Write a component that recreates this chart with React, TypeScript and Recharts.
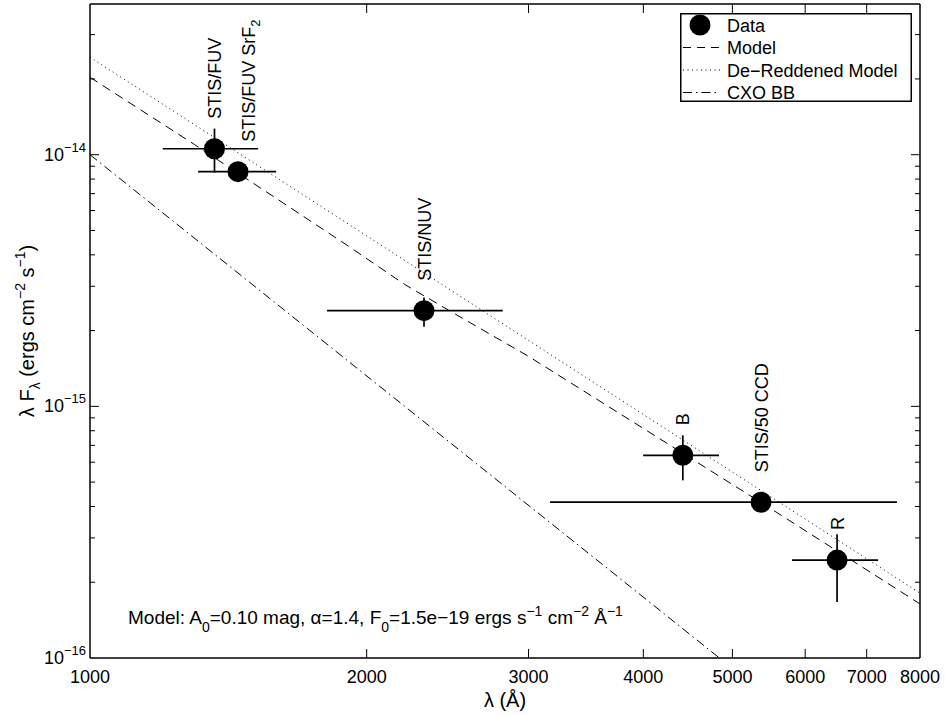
import {
  ComposedChart,
  Line,
  Scatter,
  ErrorBar,
  XAxis,
  YAxis,
  Legend,
  Customized,
} from "recharts";

const FONT = '"Liberation Sans", Arial, Helvetica, sans-serif';

// measured photometry
const pointNames = ["STIS/FUV", "STIS/FUV SrF2", "STIS/NUV", "B", "STIS/50 CCD", "R"];
const pointLam = [1366, 1449, 2309, 4416, 5372, 6499];
const pointFlux = [1.056e-14, 8.56e-15, 2.4e-15, 6.39e-16, 4.16e-16, 2.45e-16];
const lamLo = [1200, 1311, 1811, 3998, 3166, 5806];
const lamHi = [1524, 1594, 2812, 4835, 7551, 7202];
const fluxLo = [8.49e-15, 8.56e-15, 2.07e-15, 5.08e-16, 4.16e-16, 1.67e-16];
const fluxHi = [1.27e-14, 8.56e-15, 2.71e-15, 7.67e-16, 4.16e-16, 3.1e-16];

// model curves
const modelLam = [1000, 1300, 1600, 1900, 2200, 2500, 3000, 4000, 5500, 8000];
const modelFlux = [2.03e-14, 1.096e-14, 6.65e-15, 4.39e-15, 3.05e-15, 2.32e-15, 1.58e-15, 8.17e-16, 3.93e-16, 1.64e-16];
const deredLam = [1000, 8000];
const deredFlux = [2.44e-14, 1.81e-16];
const bbLam = [1000, 4840];
const bbFlux = [1.0e-14, 1.0e-16];

const xTicks = [1000, 2000, 3000, 4000, 5000, 6000, 7000, 8000];
const yTicks = [
  1e-16, 2e-16, 3e-16, 4e-16, 5e-16, 6e-16, 7e-16, 8e-16, 9e-16,
  1e-15, 2e-15, 3e-15, 4e-15, 5e-15, 6e-15, 7e-15, 8e-15, 9e-15,
  1e-14, 2e-14, 3e-14,
];
const legendNames = ["Data", "Model", "De\u2212Reddened Model", "CXO BB"];

const X_DOMAIN = [1000, 8000];
const Y_DOMAIN = [1e-16, 3.97e-14];

const points = pointNames.map((name, i) => ({
  name,
  lam: pointLam[i],
  f: pointFlux[i],
  xErr: [pointLam[i] - lamLo[i], lamHi[i] - pointLam[i]],
  yErr: [pointFlux[i] - fluxLo[i], fluxHi[i] - pointFlux[i]],
}));

const toSeries = (lams: number[], fluxes: number[]) =>
  lams.map((lam, i) => ({ lam, f: fluxes[i] }));

const isDecade = (v: number) => {
  const l = Math.log10(v);
  return Math.abs(l - Math.round(l)) < 1e-6;
};

const BottomTick = (props: any) => {
  const { x, y, payload } = props;
  const v = payload.value;
  return (
    <g>
      {v > 1000 && v < 8000 && (
        <line x1={x} y1={y} x2={x} y2={y - 9} stroke="#000" strokeWidth={1} />
      )}
      <text x={x} y={y + 25} textAnchor="middle" fontSize={18} fontFamily={FONT} fill="#000">
        {v}
      </text>
    </g>
  );
};

const TopTick = (props: any) => {
  const { x, y, payload } = props;
  const v = payload.value;
  if (v <= 1000 || v >= 8000) return <g />;
  return <line x1={x} y1={y} x2={x} y2={y + 9} stroke="#000" strokeWidth={1} />;
};

const LeftTick = (props: any) => {
  const { x, y, payload } = props;
  const v = payload.value;
  const major = isDecade(v);
  const len = major ? 9 : 5;
  return (
    <g>
      {v > Y_DOMAIN[0] && (
        <line x1={x} y1={y} x2={x + len} y2={y} stroke="#000" strokeWidth={1} />
      )}
      {major && (
        <text x={x - 4} y={y + 6} textAnchor="end" fontSize={18} fontFamily={FONT} fill="#000">
          10
          <tspan dy={-9} fontSize={13}>
            {"\u2212" + Math.abs(Math.round(Math.log10(v)))}
          </tspan>
        </text>
      )}
    </g>
  );
};

const RightTick = (props: any) => {
  const { x, y, payload } = props;
  const v = payload.value;
  if (v <= Y_DOMAIN[0]) return <g />;
  const len = isDecade(v) ? 9 : 5;
  return <line x1={x} y1={y} x2={x - len} y2={y} stroke="#000" strokeWidth={1} />;
};

const labelShift: Record<string, number> = { "STIS/FUV SrF2": 10 };

const DataPoint = (props: any) => {
  const { cx, cy, payload } = props;
  const name: string = payload.name;
  const lx = cx + (labelShift[name] ?? 0);
  const ly = cy - 30;
  const sub = name.endsWith("SrF2");
  return (
    <g>
      <circle cx={cx} cy={cy} r={10.5} fill="#000" />
      <text
        x={lx}
        y={ly}
        dy={6.5}
        transform={`rotate(-90 ${lx} ${ly})`}
        fontSize={18}
        fontFamily={FONT}
        fill="#000"
      >
        {sub ? name.slice(0, -1) : name}
        {sub && (
          <tspan dy={5} fontSize={13}>
            2
          </tspan>
        )}
      </text>
    </g>
  );
};

const YTitle = (props: any) => {
  const { viewBox } = props;
  const cx = viewBox.x + 27;
  const cy = viewBox.y + viewBox.height / 2;
  return (
    <text
      x={cx}
      y={cy}
      dy={7}
      textAnchor="middle"
      transform={`rotate(-90 ${cx} ${cy})`}
      fontSize={20}
      fontFamily={FONT}
      fill="#000"
    >
      λ F
      <tspan dy={6} fontSize={14}>λ</tspan>
      <tspan dy={-6}> (ergs cm</tspan>
      <tspan dy={-9} fontSize={14}>{"\u22122"}</tspan>
      <tspan dy={9}> s</tspan>
      <tspan dy={-9} fontSize={14}>{"\u22121"}</tspan>
      <tspan dy={9}>)</tspan>
    </text>
  );
};

const XTitle = (props: any) => {
  const { viewBox } = props;
  return (
    <text
      x={viewBox.x + viewBox.width / 2}
      y={viewBox.y + 49}
      textAnchor="middle"
      fontSize={20}
      fontFamily={FONT}
      fill="#000"
    >
      λ (Å)
    </text>
  );
};

const Annotation = () => (
  <text x={128} y={624} fontSize={19} fontFamily={FONT} fill="#000">
    Model: A<tspan dy={8} fontSize={14}>0</tspan>
    <tspan dy={-8}>=0.10 mag, α=1.4, F</tspan>
    <tspan dy={8} fontSize={14}>0</tspan>
    <tspan dy={-8}>=1.5e−19 ergs s</tspan>
    <tspan dy={-8} fontSize={14}>−1</tspan>
    <tspan dy={8}> cm</tspan>
    <tspan dy={-8} fontSize={14}>−2</tspan>
    <tspan dy={8}> Å</tspan>
    <tspan dy={-8} fontSize={14}>−1</tspan>
  </text>
);

const legendDash = ["", "8 6", "1 3.5", "9 4 1.5 4"];

const LegendBox = () => (
  <svg width={232} height={89} style={{ display: "block" }}>
    <rect x={0.75} y={0.75} width={230.5} height={87.5} fill="#fff" stroke="#000" strokeWidth={1.5} />
    {legendNames.map((name, i) => {
      const ry = 12 + i * 22.5;
      return (
        <g key={name}>
          {i === 0 ? (
            <circle cx={20} cy={ry} r={10.5} fill="#000" />
          ) : (
            <line x1={3} x2={40} y1={ry} y2={ry} stroke="#000" strokeWidth={1} strokeDasharray={legendDash[i]} />
          )}
          <text x={47} y={ry + 6.5} fontSize={18} fontFamily={FONT} fill="#000">
            {name}
          </text>
        </g>
      );
    })}
  </svg>
);

export default function App() {
  return (
    <div style={{ position: "absolute", left: 0, top: 0, background: "#fff" }}>
      <ComposedChart width={945} height={715} margin={{ top: 3, right: 24, bottom: 0, left: 0 }}>
        <XAxis
          dataKey="lam"
          type="number"
          scale="log"
          domain={X_DOMAIN}
          allowDataOverflow
          ticks={xTicks}
          interval={0}
          tickSize={0}
          tickMargin={0}
          height={57}
          tick={<BottomTick />}
          tickLine={false}
          axisLine={{ stroke: "#000", strokeWidth: 1.5 }}
          label={{ content: XTitle }}
        />
        <XAxis
          xAxisId="top"
          orientation="top"
          dataKey="lam"
          type="number"
          scale="log"
          domain={X_DOMAIN}
          allowDataOverflow
          ticks={xTicks}
          interval={0}
          tickSize={0}
          tickMargin={0}
          height={1}
          tick={<TopTick />}
          tickLine={false}
          axisLine={{ stroke: "#000", strokeWidth: 1.5 }}
        />
        <YAxis
          dataKey="f"
          type="number"
          scale="log"
          domain={Y_DOMAIN}
          allowDataOverflow
          ticks={yTicks}
          interval={0}
          tickSize={0}
          tickMargin={0}
          width={90}
          tick={<LeftTick />}
          tickLine={false}
          axisLine={{ stroke: "#000", strokeWidth: 1.5 }}
          label={{ content: YTitle }}
        />
        <YAxis
          yAxisId="right"
          orientation="right"
          dataKey="f"
          type="number"
          scale="log"
          domain={Y_DOMAIN}
          allowDataOverflow
          ticks={yTicks}
          interval={0}
          tickSize={0}
          tickMargin={0}
          width={1}
          tick={<RightTick />}
          tickLine={false}
          axisLine={{ stroke: "#000", strokeWidth: 1.5 }}
        />
        <Line
          data={toSeries(modelLam, modelFlux)}
          dataKey="f"
          name="Model"
          stroke="#000"
          strokeWidth={1}
          strokeDasharray="9 6"
          dot={false}
          activeDot={false}
          isAnimationActive={false}
        />
        <Line
          data={toSeries(deredLam, deredFlux)}
          dataKey="f"
          name="De-Reddened Model"
          stroke="#000"
          strokeWidth={1}
          strokeDasharray="1 3.5"
          dot={false}
          activeDot={false}
          isAnimationActive={false}
        />
        <Line
          data={toSeries(bbLam, bbFlux)}
          dataKey="f"
          name="CXO BB"
          stroke="#000"
          strokeWidth={1}
          strokeDasharray="9 4 1.5 4"
          dot={false}
          activeDot={false}
          isAnimationActive={false}
        />
        <Scatter data={points} name="Data" fill="#000" shape={<DataPoint />} isAnimationActive={false}>
          <ErrorBar dataKey="xErr" direction="x" width={0} stroke="#000" strokeWidth={1.7} isAnimationActive={false} />
          <ErrorBar dataKey="yErr" direction="y" width={0} stroke="#000" strokeWidth={1.7} isAnimationActive={false} />
        </Scatter>
        <Customized component={Annotation} />
        <Legend
          layout="vertical"
          align="center"
          verticalAlign="middle"
          content={<LegendBox />}
          wrapperStyle={{ left: 680, top: 13, width: 232, height: 89 }}
        />
      </ComposedChart>
    </div>
  );
}
